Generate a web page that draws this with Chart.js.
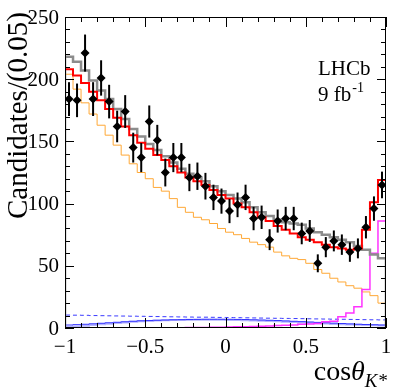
<!DOCTYPE html>
<html>
<head>
<meta charset="UTF-8">
<title>cos theta K*</title>
<script src="https://cdn.jsdelivr.net/npm/chart.js"></script>
<style>
  html, body { margin: 0; padding: 0; background: #fff; }
  #chart { display: block; }
</style>
</head>
<body>
<canvas id="chart" width="407" height="391"></canvas>
<script>
// 40 bins of width 0.05 from -1 to 1
const binLow = Array.from({ length: 40 }, (_, i) => -1 + 0.05 * i);
const binCenter = binLow.map(x => x + 0.025);

// data (black points)
const dataCounts = [184, 183, 221, 184, 201, 182, 162, 174, 145, 137,
                    166, 151, 125, 137, 137, 121, 122, 114, 105, 102,
                    94, 99, 105, 88, 89, 71, 86, 88, 88, 76,
                    78, 52, 65, 70, 67, 61, 64, 81, 96, 115];
const dataErrors = [13.6, 13.5, 14.9, 13.6, 14.2, 13.5, 12.7, 13.2, 12.0, 11.7,
                    12.9, 12.3, 11.2, 11.7, 11.7, 11.0, 11.0, 10.7, 10.2, 10.1,
                    9.7, 9.9, 10.2, 9.4, 9.4, 8.4, 9.3, 9.4, 9.4, 8.7,
                    8.8, 7.2, 8.1, 8.4, 8.2, 7.8, 8.0, 9.0, 9.8, 10.7];

// fit curves (step histograms)
const totalFit = [208, 203, 197, 190, 183, 176, 169, 162, 155, 149,
                  144, 139, 135, 130, 125, 121, 118, 115, 111, 107,
                  104, 100, 97, 93, 89, 86, 82, 79, 76, 73,
                  71, 69, 67, 65, 64, 63, 64, 79, 101, 119];
const altFit = [218, 214, 207, 199, 191, 184, 176, 168, 160, 154,
                148, 143, 138, 133, 128, 124, 121, 118, 114, 110,
                107, 104, 101, 97, 93, 90, 87, 85, 84, 83,
                80, 77, 75, 73, 71, 69, 66, 63, 59, 56];
const mainComp = [204, 192, 181, 172, 163, 155, 147, 139, 132, 125,
                  120, 113, 110, 104, 97, 93, 89, 87, 84, 80,
                  77, 75, 72, 69, 67, 65, 61, 58, 56, 55,
                  52, 47, 44, 40, 37, 34, 32, 29, 26, 20];
const peakComp = [0.3, 0.3, 0.3, 0.3, 0.3, 0.3, 0.3, 0.3, 0.3, 0.3,
                  0.3, 0.3, 0.3, 0.3, 0.3, 0.4, 0.4, 0.5, 0.6, 0.7,
                  0.9, 1.0, 1.1, 1.3, 1.5, 1.7, 2.0, 2.2, 2.5, 3.0,
                  3.2, 3.6, 5.0, 5.5, 9.0, 12, 17, 31, 60, 86];
const bkgSolid = [2.4, 2.7, 3.0, 3.4, 3.8, 4.2, 4.6, 5.0, 5.4, 5.8,
                  6.0, 6.2, 6.4, 6.6, 6.7, 6.8, 6.9, 7.0, 7.0, 7.0,
                  7.0, 6.9, 6.8, 6.6, 6.4, 6.2, 6.0, 5.7, 5.4, 5.1,
                  4.8, 4.5, 4.2, 3.9, 3.6, 3.3, 3.0, 2.8, 2.6, 2.4];
const bkgLight = [0.8, 1.2, 1.8, 2.4, 3.0, 3.5, 4.0, 4.5, 5.0, 5.4,
                  5.7, 6.0, 6.2, 6.4, 6.5, 6.6, 6.6, 6.6, 6.6, 6.6,
                  6.5, 6.4, 6.2, 6.0, 5.8, 5.6, 5.4, 5.1, 4.8, 4.5,
                  4.2, 3.9, 3.6, 3.3, 3.0, 2.8, 2.6, 2.4, 2.2, 2.0];
const bkgDashed = [10.4, 10.3, 10.2, 10.0, 9.9, 9.8, 9.7, 9.6, 9.5, 9.4,
                   9.3, 9.2, 9.1, 9.0, 8.9, 8.8, 8.7, 8.7, 8.6, 8.5,
                   8.4, 8.3, 8.2, 8.1, 8.0, 7.9, 7.8, 7.7, 7.6, 7.5,
                   7.4, 7.3, 7.2, 7.1, 7.0, 6.9, 6.8, 6.7, 6.6, 6.5];

const xTickLabels = { "-1": "\u22121", "-0.5": "\u22120.5", "0": "0", "0.5": "0.5", "1": "1" };
const yTickLabels = ["0", "50", "100", "150", "200", "250"];

const SERIF = "'Liberation Serif', 'DejaVu Serif', serif";

// histogram outline, closed down to zero at both ends
function stepPoints(values) {
    const pts = [{ x: -1, y: 0 }];
    values.forEach((v, i) => pts.push({ x: binLow[i], y: v }));
    pts.push({ x: 1, y: values[values.length - 1] });
    pts.push({ x: 1, y: 0 });
    return pts;
}

function histLine(values, color, width, dash) {
    return {
        type: "line",
        data: stepPoints(values),
        borderColor: color,
        borderWidth: width,
        borderDash: dash || [],
        stepped: "before",
        pointRadius: 0,
        fill: false,
        tension: 0,
    };
}

// vertical error bars on the data points
const errorBars = {
    id: "errorBars",
    afterDatasetsDraw(chart) {
        const { ctx, scales: { x, y } } = chart;
        ctx.save();
        ctx.strokeStyle = "#000";
        ctx.lineWidth = 2;
        binCenter.forEach((c, i) => {
            const px = x.getPixelForValue(c);
            ctx.beginPath();
            ctx.moveTo(px, y.getPixelForValue(dataCounts[i] - dataErrors[i]));
            ctx.lineTo(px, y.getPixelForValue(dataCounts[i] + dataErrors[i]));
            ctx.stroke();
        });
        ctx.restore();
    },
};

// ROOT-style frame, inward ticks on all sides, labels and texts
const frame = {
    id: "frame",
    afterDraw(chart) {
        const { ctx, chartArea: a, scales: { x, y } } = chart;
        ctx.save();
        ctx.strokeStyle = "#000";
        ctx.lineWidth = 1;
        ctx.strokeRect(a.left + 0.5, a.top + 0.5, a.right - a.left - 1, a.bottom - a.top - 1);

        ctx.beginPath();
        for (let k = -10; k <= 10; k++) {
            const px = Math.round(x.getPixelForValue(k / 10)) + 0.5;
            const len = k % 5 === 0 ? 10 : 5;
            ctx.moveTo(px, a.bottom); ctx.lineTo(px, a.bottom - len);
            ctx.moveTo(px, a.top); ctx.lineTo(px, a.top + len);
        }
        for (let v = 0; v <= 250; v += 10) {
            const py = Math.round(y.getPixelForValue(v)) + 0.5;
            const len = v % 50 === 0 ? 9 : 5;
            ctx.moveTo(a.left, py); ctx.lineTo(a.left + len, py);
            ctx.moveTo(a.right, py); ctx.lineTo(a.right - len, py);
        }
        ctx.stroke();

        ctx.fillStyle = "#000";
        ctx.font = "21px " + SERIF;
        ctx.textAlign = "center";
        ctx.textBaseline = "alphabetic";
        x.ticks.forEach(t => {
            const key = String(Math.round(t.value * 10) / 10);
            ctx.fillText(xTickLabels[key], x.getPixelForValue(t.value), 353);
        });
        ctx.textAlign = "right";
        ctx.textBaseline = "middle";
        y.ticks.forEach((t, i) => {
            ctx.fillText(yTickLabels[i], a.left - 6, y.getPixelForValue(t.value) + 1);
        });

        // y title
        ctx.save();
        ctx.translate(19, 12);
        ctx.rotate(-Math.PI / 2);
        ctx.font = "29px " + SERIF;
        ctx.textAlign = "right";
        ctx.textBaseline = "middle";
        ctx.fillText("Candidates/(0.05)", 0, 0);
        ctx.restore();

        // x title: cos theta_{K*}
        ctx.textBaseline = "alphabetic";
        ctx.textAlign = "left";
        const fMain = "28px " + SERIF, fTheta = "italic 28px " + SERIF, fSub = "italic 19px " + SERIF;
        ctx.font = fMain; const wCos = ctx.measureText("cos").width;
        ctx.font = fTheta; const wTh = ctx.measureText("\u03b8").width;
        ctx.font = fSub; const wSub = ctx.measureText("K*").width;
        let x0 = 387 - (wCos + wTh + wSub);
        ctx.font = fMain; ctx.fillText("cos", x0, 380); x0 += wCos;
        ctx.font = fTheta; ctx.fillText("\u03b8", x0, 380); x0 += wTh;
        ctx.font = fSub; ctx.fillText("K*", x0, 387);

        // LHCb label
        ctx.font = "21px " + SERIF;
        ctx.fillText("LHCb", 318, 75);
        ctx.fillText("9 fb", 318, 101);
        const w9 = ctx.measureText("9 fb").width;
        ctx.font = "14px " + SERIF;
        ctx.fillText("-1", 318 + w9 + 1, 92);
        ctx.restore();
    },
};

new Chart(document.getElementById("chart"), {
    type: "line",
    data: {
        datasets: [
            {
                type: "line",
                data: binCenter.map((c, i) => ({ x: c, y: dataCounts[i] })),
                showLine: false,
                pointStyle: "rectRot",
                pointRadius: 4.5,
                pointBackgroundColor: "#000",
                pointBorderColor: "#000",
                pointBorderWidth: 0,
            },
            histLine(totalFit, "#ff0000", 2),
            histLine(altFit, "#8c8c8c", 2.5),
            histLine(peakComp, "#ff33ff", 1.5),
            histLine(mainComp, "#ffa836", 1),
            histLine(bkgSolid, "#3333ff", 1),
            histLine(bkgLight, "#b4b4ff", 2),
            histLine(bkgDashed, "#3b3bff", 1, [4, 3]),
        ],
    },
    options: {
        responsive: false,
        animation: false,
        devicePixelRatio: 1,
        layout: { padding: { left: 65, right: 21, top: 17, bottom: 63 } },
        plugins: { legend: { display: false }, tooltip: { enabled: false } },
        scales: {
            x: { type: "linear", display: false, min: -1, max: 1, ticks: { stepSize: 0.5 } },
            y: { type: "linear", display: false, min: 0, max: 250, ticks: { stepSize: 50 } },
        },
    },
    plugins: [errorBars, frame],
});
</script>
</body>
</html>
